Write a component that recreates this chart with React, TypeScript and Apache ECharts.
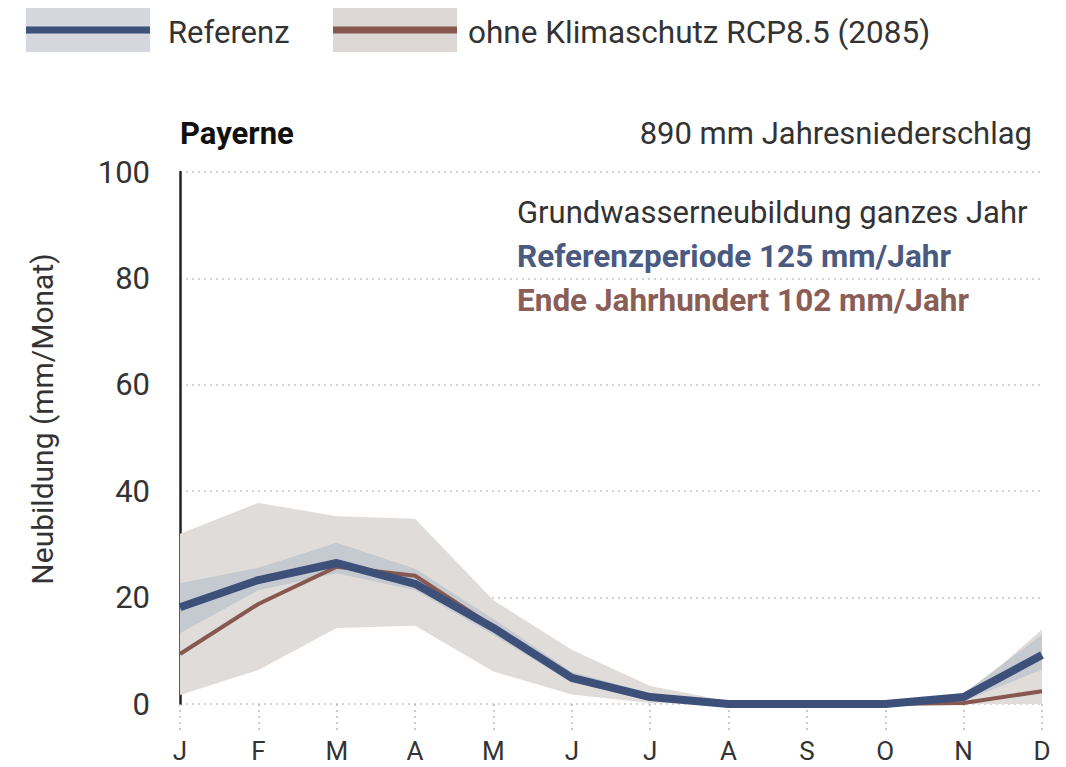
import React, { useEffect, useRef } from "react";
import * as echarts from "echarts";

const months = ["J", "F", "M", "A", "M", "J", "J", "A", "S", "O", "N", "D"];
const refLine = [18.2, 23.3, 26.5, 22.6, 14.3, 4.9, 1.3, 0, 0, 0, 1.3, 9.2];
const rcpLine = [9.4, 18.8, 25.8, 24.1, 14.5, 5.0, 1.3, 0, 0, 0, 0.2, 2.4];
const refLow = [13.3, 21.4, 24.6, 21.4, 13.0, 4.0, 0.8, 0, 0, 0, 0.5, 6.5];
const refHigh = [22.7, 25.6, 30.3, 25.4, 16.0, 6.0, 2.0, 0.3, 0, 0, 2.0, 13.0];
const rcpLow = [1.7, 6.4, 14.3, 14.7, 6.1, 1.8, 0.2, 0, 0, 0, 0, 0];
const rcpHigh = [32.0, 37.8, 35.3, 34.8, 19.5, 10.2, 3.4, 0.5, 0, 0, 1.2, 14.0];
const yTicks = [0, 20, 40, 60, 80, 100];

const FONT = "Roboto, 'Noto Sans', sans-serif";
const BLUE = "#3d5079";
const BROWN = "#87584f";
const BAND_RCP = "#e0dcda";
const BAND_REF = "#c5c9d0";

export default function App() {
  const ref = useRef<HTMLDivElement>(null);
  useEffect(() => {
    if (!ref.current) return;
    const chart = echarts.init(ref.current, null, { renderer: "svg" });
    const diff = (hi: number[], lo: number[]) => hi.map((v, i) => +(v - lo[i]).toFixed(2));
    const bandBase = (stack: string, data: number[]) => ({
      type: "line",
      stack,
      data,
      symbol: "none",
      lineStyle: { opacity: 0 },
      silent: true,
    });
    const bandTop = (stack: string, data: number[], color: string) => ({
      type: "line",
      stack,
      data,
      symbol: "none",
      lineStyle: { opacity: 0 },
      areaStyle: { color, opacity: 1 },
      silent: true,
    });
    chart.setOption({
      animation: false,
      grid: { left: 180, right: 24, top: 172, bottom: 63, containLabel: false },
      xAxis: {
        type: "category",
        data: months,
        boundaryGap: false,
        axisLine: { show: false },
        axisTick: {
          show: true,
          length: 30,
          lineStyle: { color: "#bbbbbb", type: [2, 4], width: 1.5 },
        },
        axisLabel: { color: "#333", fontSize: 26, lineHeight: 26, fontFamily: FONT, margin: 34 },
        splitLine: { show: false },
      },
      yAxis: {
        type: "value",
        min: 0,
        max: 100,
        interval: 20,
        axisLine: { show: true, lineStyle: { color: "#222", width: 2.5 } },
        axisTick: { show: false },
        axisLabel: {
          color: "#333",
          fontSize: 31,
          fontFamily: FONT,
          margin: 30,
          formatter: (v: number) => (yTicks.includes(v) ? String(v) : ""),
        },
        splitLine: { show: true, lineStyle: { color: "#c4c4c4", type: [2, 4], width: 1.5 } },
      },
      series: [
        bandBase("rcp", rcpLow),
        bandTop("rcp", diff(rcpHigh, rcpLow), BAND_RCP),
        bandBase("ref", refLow),
        bandTop("ref", diff(refHigh, refLow), BAND_REF),
        {
          type: "line",
          data: rcpLine,
          symbol: "none",
          lineStyle: { color: BROWN, width: 4 },
        },
        {
          type: "line",
          data: refLine,
          symbol: "none",
          lineStyle: { color: BLUE, width: 8 },
        },
      ],
      graphic: [
        { type: "rect", shape: { x: 26, y: 8, width: 124, height: 44 }, style: { fill: "#d4d8de" } },
        { type: "line", shape: { x1: 26, y1: 30, x2: 150, y2: 30 }, style: { stroke: BLUE, lineWidth: 7 } },
        {
          type: "text",
          x: 168,
          y: 32,
          style: { text: "Referenz", fill: "#333", fontSize: 31, fontFamily: FONT, verticalAlign: "middle" },
        },
        { type: "rect", shape: { x: 333, y: 8, width: 124, height: 44 }, style: { fill: "#ddd8d6" } },
        { type: "line", shape: { x1: 333, y1: 30, x2: 457, y2: 30 }, style: { stroke: BROWN, lineWidth: 7 } },
        {
          type: "text",
          x: 468,
          y: 32,
          style: {
            text: "ohne Klimaschutz RCP8.5 (2085)",
            fill: "#333",
            fontSize: 31.5,
            fontFamily: FONT,
            verticalAlign: "middle",
          },
        },
        {
          type: "text",
          x: 180,
          y: 133,
          style: { text: "Payerne", fill: "#111", fontSize: 31, fontWeight: "bold", fontFamily: FONT, verticalAlign: "middle" },
        },
        {
          type: "text",
          x: 1032,
          y: 133,
          style: {
            text: "890 mm Jahresniederschlag",
            fill: "#333",
            fontSize: 31,
            fontFamily: FONT,
            align: "right",
            verticalAlign: "middle",
          },
        },
        {
          type: "text",
          x: 517,
          y: 212,
          style: {
            text: "Grundwasserneubildung ganzes Jahr",
            fill: "#333",
            fontSize: 31,
            fontFamily: FONT,
            verticalAlign: "middle",
          },
        },
        {
          type: "text",
          x: 517,
          y: 256,
          style: {
            text: "Referenzperiode 125 mm/Jahr",
            fill: "#4a5a80",
            fontSize: 31.5,
            fontWeight: "bold",
            fontFamily: FONT,
            verticalAlign: "middle",
          },
        },
        {
          type: "text",
          x: 517,
          y: 300,
          style: {
            text: "Ende Jahrhundert 102 mm/Jahr",
            fill: "#8a5e57",
            fontSize: 31.5,
            fontWeight: "bold",
            fontFamily: FONT,
            verticalAlign: "middle",
          },
        },
        {
          type: "text",
          x: 42,
          y: 419,
          rotation: Math.PI / 2,
          style: {
            text: "Neubildung (mm/Monat)",
            fill: "#333",
            fontSize: 30,
            fontFamily: FONT,
            align: "center",
            verticalAlign: "middle",
          },
        },
      ],
    });
    return () => chart.dispose();
  }, []);
  return <div ref={ref} style={{ width: 1066, height: 767, position: "absolute", left: 0, top: 0 }} />;
}
